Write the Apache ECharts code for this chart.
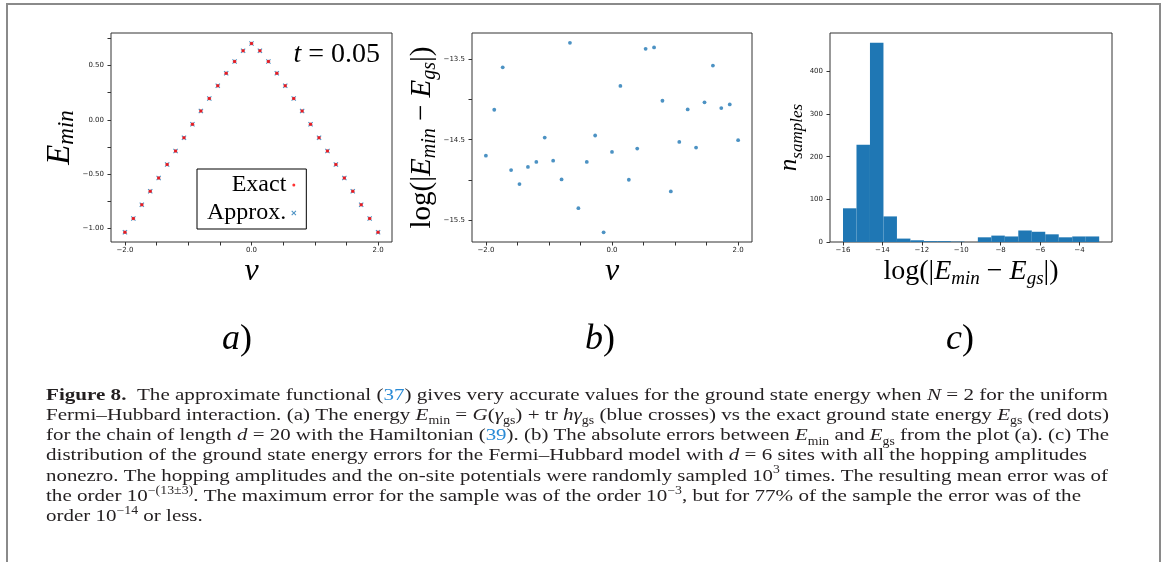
<!DOCTYPE html>
<html>
<head>
<meta charset="utf-8">
<script src="https://cdn.jsdelivr.net/npm/echarts@6/dist/echarts.min.js"></script>
<style>
  html, body { margin: 0; padding: 0; background: #fff; }
  #chart { width: 1165px; height: 562px; }
</style>
</head>
<body>
<div id="chart"></div>
<script>
// panel a / b : hopping v on x
var vGrid = [-2.0, -1.867, -1.733, -1.6, -1.467, -1.333, -1.2, -1.067, -0.933, -0.8, -0.667,
  -0.533, -0.4, -0.267, -0.133, 0.0, 0.133, 0.267, 0.4, 0.533, 0.667, 0.8, 0.933, 1.067,
  1.2, 1.333, 1.467, 1.6, 1.733, 1.867, 2.0];
// exact ground state energy (red dots)
var eExact = [-1.034, -0.907, -0.781, -0.657, -0.534, -0.410, -0.287, -0.164, -0.040, 0.083, 0.198,
  0.315, 0.429, 0.537, 0.636, 0.704, 0.636, 0.537, 0.429, 0.315, 0.198, 0.083, -0.040, -0.164,
  -0.287, -0.410, -0.534, -0.657, -0.781, -0.907, -1.034];
// approximate functional (blue crosses)
var eApprox = [-1.034, -0.907, -0.781, -0.657, -0.534, -0.410, -0.287, -0.164, -0.040, 0.083, 0.198,
  0.315, 0.429, 0.537, 0.636, 0.704, 0.636, 0.537, 0.429, 0.315, 0.198, 0.083, -0.040, -0.164,
  -0.287, -0.410, -0.534, -0.657, -0.781, -0.907, -1.034];
// panel b : log error
var logErr = [-14.697, -14.129, -13.604, -14.875, -15.049, -14.837, -14.775, -14.473, -14.759, -14.991, -13.301,
  -15.347, -14.775, -14.448, -15.645, -14.651, -13.835, -14.995, -14.610, -13.376, -13.359, -14.018,
  -15.140, -14.527, -14.125, -14.597, -14.038, -13.583, -14.109, -14.063, -14.506];
// panel c : histogram
var binEdges = [-16.0, -15.316, -14.632, -13.947, -13.263, -12.579, -11.895, -11.211, -10.526, -9.842,
  -9.158, -8.474, -7.789, -7.105, -6.421, -5.737, -5.053, -4.368, -3.684, -3.0];
var binCounts = [79, 228, 467, 60, 8, 4, 2, 2, 1, 0, 11, 15, 13, 27, 24, 18, 11, 13, 13];

// ticks
var vTicks = [-2, -1.5, -1, -0.5, 0, 0.5, 1, 1.5, 2];
var vLabels = [-2, 0, 2];
var eTicks = [-1, -0.75, -0.5, -0.25, 0, 0.25, 0.5, 0.75];
var eLabels = [-1, -0.5, 0, 0.5];
var errTicks = [-15.5, -15, -14.5, -14, -13.5];
var errLabels = [-15.5, -14.5, -13.5];
var histXTicks = [-16, -14, -12, -10, -8, -6, -4];
var histYTicks = [0, 100, 200, 300, 400];

// caption lines
var capLines = [
  '{b|Figure 8.}  The approximate functional ({l|37}) gives very accurate values for the ground state energy when {i|N} = 2 for the uniform',
  'Fermi\u2013Hubbard interaction. (a) The energy {i|E}{sub|min} = {i|G}({i|\u03b3}{sub|gs}) + tr {i|h\u03b3}{sub|gs} (blue crosses) vs the exact ground state energy {i|E}{sub|gs} (red dots)',
  'for the chain of length {i|d} = 20 with the Hamiltonian ({l|39}). (b) The absolute errors between {i|E}{sub|min} and {i|E}{sub|gs} from the plot (a). (c) The',
  'distribution of the ground state energy errors for the Fermi\u2013Hubbard model with {i|d} = 6 sites with all the hopping amplitudes',
  'nonezro. The hopping amplitudes and the on-site potentials were randomly sampled 10{sup|3} times. The resulting mean error was of',
  'the order 10{sup|\u2212(13\u00b13)}. The maximum error for the sample was of the order 10{sup|\u22123}, but for 77% of the sample the error was of the',
  'order 10{sup|\u221214} or less.'
];
// right end of each line (last line is not full, it takes the mean stretch)
var capRight = [1108, 1109, 1109, 1087, 1108, 1081, null];

var SERIF = 'Liberation Serif';
var TICKFONT = 'DejaVu Sans';
var BLUE = '#1f77b4';
var crossPath = 'path://M0,1.5L1.5,0L5,3.5L8.5,0L10,1.5L6.5,5L10,8.5L8.5,10L5,6.5L1.5,10L0,8.5L3.5,5Z';
// small dot centred in a 10x10 box (corner specks only fix the box size)
var dotIcon = 'path://M0,0L0.01,0L0,0.01ZM10,10L9.99,10L10,9.99ZM5,2A3,3,0,1,1,5,8A3,3,0,1,1,5,2Z';

function minus(s) { return String(s).replace('-', '\u2212'); }
function zip(xs, ys) { return xs.map(function (x, i) { return [x, ys[i]]; }); }

var mathRich = function (big, small, lh) {
  return {
    i: { fontFamily: SERIF, fontStyle: 'italic', fontSize: big, lineHeight: lh, color: '#000' },
    s: { fontFamily: SERIF, fontStyle: 'italic', fontSize: small, lineHeight: small, verticalAlign: 'bottom', color: '#000' },
    r: { fontFamily: SERIF, fontSize: big, lineHeight: lh, color: '#000' }
  };
};
function nameStyle(big, small, lh) {
  return { fontFamily: SERIF, fontSize: big, lineHeight: lh, color: '#000', rich: mathRich(big, small, lh) };
}

function xAxisV(grid) {
  return {
    gridIndex: grid, type: 'value', min: -2.22, max: 2.22,
    axisLine: { show: false, onZero: false },
    axisTick: { show: true, length: 3.5, customValues: vTicks, lineStyle: { color: '#333', width: 1 } },
    axisLabel: { customValues: vLabels, fontFamily: TICKFONT, fontSize: 7, color: '#222', margin: 5,
      formatter: function (v) { return minus(v.toFixed(1)); } },
    splitLine: { show: false },
    name: '{i|v}', nameLocation: 'middle', nameGap: 6,
    nameTextStyle: nameStyle(32, 22, 34)
  };
}

var capFs = 17.5;
var capRich = {
  b: { fontFamily: SERIF, fontSize: capFs, fontWeight: 'bold', fill: '#231f20' },
  i: { fontFamily: SERIF, fontSize: capFs, fontStyle: 'italic', fill: '#231f20' },
  l: { fontFamily: SERIF, fontSize: capFs, fill: '#2a8bd6' },
  sub: { fontFamily: SERIF, fontSize: 11.5, lineHeight: 12, verticalAlign: 'bottom', fill: '#231f20' },
  sup: { fontFamily: SERIF, fontSize: 11.5, lineHeight: 12, verticalAlign: 'top', fill: '#231f20' }
};
var capLeft = 46, capTop = 395, capStep = 20.3;

var graphics = [
  { type: 'polyline', shape: { points: [[7, 562], [7, 4], [1160, 4], [1160, 562]] },
    style: { stroke: '#8a8a8a', lineWidth: 2, fill: null } },
  { type: 'text', x: 380, y: 55,
    style: { text: '{i|t} = 0.05', align: 'right', verticalAlign: 'middle', fontFamily: SERIF, fontSize: 28, fill: '#000',
      rich: { i: { fontFamily: SERIF, fontStyle: 'italic', fontSize: 28, fill: '#000' } } } }
];
[['a', 237], ['b', 600], ['c', 960]].forEach(function (p) {
  graphics.push({ type: 'text', x: p[1], y: 340,
    style: { text: '{i|' + p[0] + '})', align: 'center', verticalAlign: 'middle', fontFamily: SERIF, fontSize: 36, fill: '#000',
      rich: { i: { fontFamily: SERIF, fontStyle: 'italic', fontSize: 36, fill: '#000' } } } });
});

// stretch each caption line to its measured right end
var capStyles = capLines.map(function (line) {
  return { text: line, rich: capRich, fontFamily: SERIF, fontSize: capFs, lineHeight: 24, fill: '#231f20',
    align: 'left', verticalAlign: 'middle' };
});
var capScales = capStyles.map(function (st, k) {
  if (capRight[k] == null) return null;
  var w = new echarts.graphic.Text({ style: st }).getBoundingRect().width;
  return (capRight[k] - capLeft) / w;
});
var full = [0, 1, 2, 4].map(function (k) { return capScales[k]; });
var meanScale = full.reduce(function (a, b) { return a + b; }, 0) / full.length;
capStyles.forEach(function (st, k) {
  graphics.push({ type: 'text', x: capLeft, y: capTop + k * capStep,
    scaleX: capScales[k] == null ? meanScale : capScales[k], style: st });
});

var chart = echarts.init(document.getElementById('chart'));
chart.setOption({
  animation: false,
  backgroundColor: '#fff',
  grid: [
    { left: 111, top: 33, width: 281, height: 209, show: true, borderColor: '#333', borderWidth: 1 },
    { left: 472, top: 33, width: 280, height: 209, show: true, borderColor: '#333', borderWidth: 1 },
    { left: 830, top: 33, width: 282, height: 209, show: true, borderColor: '#333', borderWidth: 1 }
  ],
  legend: {
    data: [{ name: 'Exact', icon: dotIcon }, { name: 'Approx.' }], orient: 'vertical', align: 'right',
    left: 197, top: 169, itemWidth: 5, itemHeight: 5, itemGap: 2,
    padding: [3, 10, 3, 10], borderColor: '#000', borderWidth: 1, borderRadius: 0, backgroundColor: '#fff',
    selectedMode: false,
    textStyle: { fontFamily: SERIF, fontSize: 24, lineHeight: 26, color: '#000' }
  },
  xAxis: [
    xAxisV(0),
    xAxisV(1),
    {
      gridIndex: 2, type: 'value', min: -16.66, max: -2.35,
      axisLine: { show: false, onZero: false },
      axisTick: { show: true, length: 3.5, customValues: histXTicks, lineStyle: { color: '#333' } },
      axisLabel: { customValues: histXTicks, fontFamily: TICKFONT, fontSize: 7, color: '#222', margin: 5,
        formatter: function (v) { return minus(v); } },
      splitLine: { show: false },
      name: 'log(|{i|E}{s|min} \u2212 {i|E}{s|gs}|)', nameLocation: 'middle', nameGap: 8,
      nameTextStyle: nameStyle(28, 19, 34)
    }
  ],
  yAxis: [
    {
      gridIndex: 0, type: 'value', min: -1.124, max: 0.8,
      axisLine: { show: false, onZero: false },
      axisTick: { show: true, length: 3.5, customValues: eTicks, lineStyle: { color: '#333' } },
      axisLabel: { customValues: eLabels, fontFamily: TICKFONT, fontSize: 7, color: '#222', margin: 7,
        formatter: function (v) { return minus(v.toFixed(2)); } },
      splitLine: { show: false },
      name: '{i|E}{s|min}', nameLocation: 'middle', nameRotate: 90, nameGap: 26,
      nameTextStyle: nameStyle(33, 23, 36)
    },
    {
      gridIndex: 1, type: 'value', min: -15.765, max: -13.18,
      axisLine: { show: false, onZero: false },
      axisTick: { show: true, length: 3.5, customValues: errTicks, lineStyle: { color: '#333' } },
      axisLabel: { customValues: errLabels, fontFamily: TICKFONT, fontSize: 7, color: '#222', margin: 7,
        formatter: function (v) { return minus(v.toFixed(1)); } },
      splitLine: { show: false },
      name: 'log(|{i|E}{s|min} \u2212 {i|E}{s|gs}|)', nameLocation: 'middle', nameRotate: 90, nameGap: 31,
      nameTextStyle: nameStyle(29, 20, 34)
    },
    {
      gridIndex: 2, type: 'value', min: 0, max: 490,
      axisLine: { show: false, onZero: false },
      axisTick: { show: true, length: 3.5, customValues: histYTicks, lineStyle: { color: '#333' } },
      axisLabel: { customValues: histYTicks, fontFamily: TICKFONT, fontSize: 7, color: '#222', margin: 7 },
      splitLine: { show: false },
      name: '{i|n}{s|samples}', nameLocation: 'middle', nameRotate: 90, nameGap: 23,
      nameTextStyle: nameStyle(25, 17, 32)
    }
  ],
  series: [
    { name: 'Approx.', type: 'scatter', xAxisIndex: 0, yAxisIndex: 0, data: zip(vGrid, eApprox),
      symbol: crossPath, symbolSize: 5, itemStyle: { color: BLUE } },
    { name: 'Exact', type: 'scatter', xAxisIndex: 0, yAxisIndex: 0, data: zip(vGrid, eExact),
      symbol: 'circle', symbolSize: 3.5, itemStyle: { color: '#ff0000' } },
    { name: 'err', type: 'scatter', xAxisIndex: 1, yAxisIndex: 1, data: zip(vGrid, logErr),
      symbol: 'circle', symbolSize: 3.8, itemStyle: { color: BLUE } },
    {
      name: 'hist', type: 'custom', xAxisIndex: 2, yAxisIndex: 2,
      data: binCounts.map(function (c, i) { return [binEdges[i], binEdges[i + 1], c]; }),
      encode: { x: [0, 1], y: 2 },
      renderItem: function (params, api) {
        var p0 = api.coord([api.value(0), api.value(2)]);
        var p1 = api.coord([api.value(1), 0]);
        return { type: 'rect', shape: { x: p0[0], y: p0[1], width: p1[0] - p0[0], height: p1[1] - p0[1] },
          style: { fill: BLUE } };
      }
    }
  ],
  graphic: graphics
});
</script>
</body>
</html>
